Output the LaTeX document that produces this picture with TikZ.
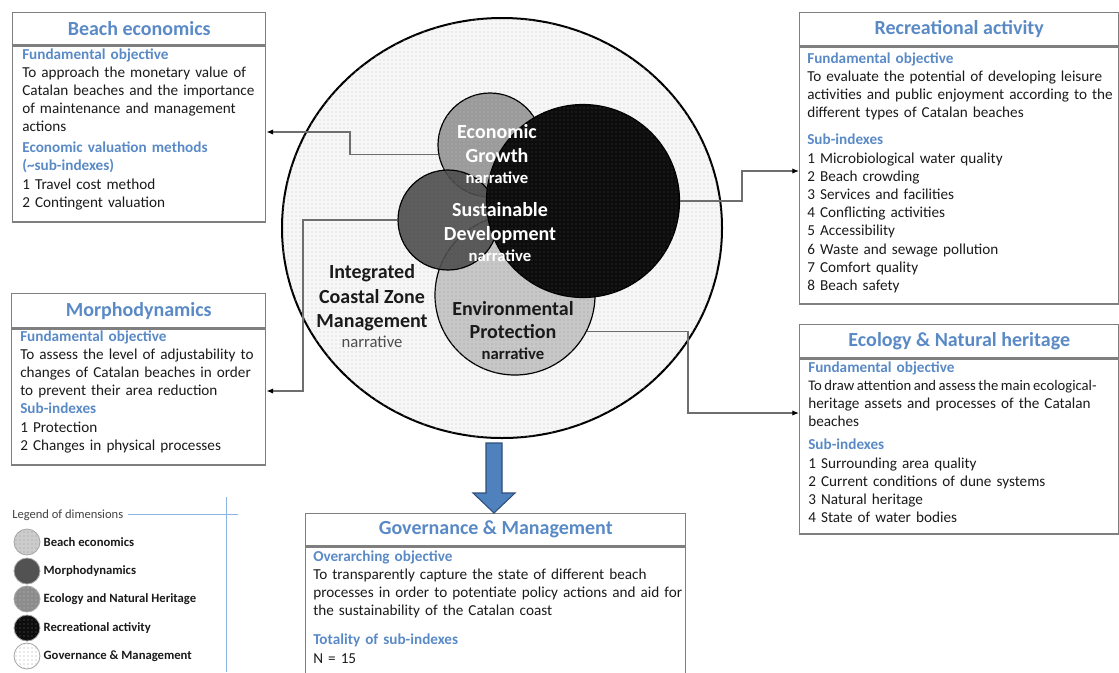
\documentclass[tikz,border=0pt]{standalone}
\usepackage{fontspec}
\setmainfont{Carlito}
\usetikzlibrary{patterns,shapes.geometric,arrows.meta,calc}
\definecolor{ttl}{HTML}{5A8AC6}
\definecolor{frame}{HTML}{7F7F7F}
\definecolor{ink}{HTML}{1A1A1A}
\definecolor{linkgray}{HTML}{6E6E6E}
\definecolor{arrowblue}{HTML}{4F81BD}
\definecolor{arrowedge}{HTML}{2F4F7A}
\definecolor{legline}{HTML}{8EB4E3}
\newcommand\hd[1]{{\color{ttl}\bfseries #1}}
\begin{document}
\begin{tikzpicture}[x=0.75pt, y=-0.75pt,
  hdr/.style={draw=frame, line width=1.1pt, inner sep=0, anchor=north west,
    font=\fontsize{15}{18}\selectfont\bfseries, text=ttl},
  panel/.style={draw=frame, line width=1.1pt, inner sep=0, anchor=north west},
  btext/.style={anchor=base west, inner sep=0, align=left, text width=320pt,
    font=\fontsize{11.4}{13.65}\selectfont, text=ink},
  disc/.style={circle, inner sep=0, draw=black, line width=0.9pt},
  dotty/.style={postaction={pattern=dots, pattern color=#1}},
  conn/.style={draw=linkgray, line width=0.9pt, -{Latex[length=5pt,width=4pt,color=black]}},
  clab/.style={anchor=base, inner sep=0, font=\fontsize{15}{18}\selectfont\bfseries},
  narr/.style={anchor=base, inner sep=0, font=\fontsize{12.5}{15}\selectfont\bfseries},
  lgc/.style={circle, inner sep=0, minimum size=19.5pt, draw=gray!70, line width=0.6pt},
  lgl/.style={anchor=west, inner sep=0, xshift=2.25pt, font=\fontsize{9.5}{11}\selectfont\bfseries, text=ink},
  lgline/.style={draw=legline, line width=0.7pt}
]
\useasboundingbox (0,0) rectangle (1119,672);
\clip (0,0) rectangle (1119,672);

% ---------- central diagram ----------
\node[ellipse, inner sep=0, minimum width=330pt, minimum height=315pt, draw=black,
      line width=1.5pt, fill=black!3, dotty=black!25] (ic) at (502,228) {};
\node[disc, minimum size=120pt, fill=black!22, dotty=black!38] (env) at (515,295) {};
\node[disc, minimum size=78pt, fill=black!42, fill opacity=0.92, dotty=black!25] (eg) at (490,145) {};
\node[disc, minimum size=75pt, fill=black!70, fill opacity=0.9, dotty=black!55] (sd) at (448,220) {};
\node[disc, minimum size=144.75pt, fill=black!95, dotty=black!75] (rb) at (583,201) {};

% ---------- panels ----------
\node[hdr, minimum width=189.75pt, minimum height=24pt] (beT) at (12,12) {Beach economics};
\node[panel, minimum width=189.75pt, minimum height=132pt] (be) at (beT.south west) {};
\node[btext] (beX) at (22,59) {\hd{Fundamental objective}\\
To approach the monetary value of\\
Catalan beaches and the importance\\
of maintenance and management\\
actions\\[2pt]
\hd{Economic valuation methods}\\
\hd{(\textasciitilde sub-indexes)}\\
1 Travel cost method\\
2 Contingent valuation};

\node[hdr, minimum width=190.5pt, minimum height=25.5pt] (moT) at (11,293) {Morphodynamics};
\node[panel, minimum width=190.5pt, minimum height=102pt] (mo) at (moT.south west) {};
\node[btext] (moX) at (20,341) {\hd{Fundamental objective}\\
To assess the level of adjustability to\\
changes of Catalan beaches in order\\
to prevent their area reduction\\
\hd{Sub-indexes}\\
1 Protection\\
2 Changes in physical processes};

\node[hdr, minimum width=239.25pt, minimum height=24.75pt] (raT) at (799,12) {Recreational activity};
\node[panel, minimum width=239.25pt, minimum height=192.75pt] (ra) at (raT.south west) {};
\node[btext] (raX) at (807,63) {\hd{Fundamental objective}\\
To evaluate the potential of developing leisure\\
activities and public enjoyment according to the\\
different types of Catalan beaches\\[6.75pt]
\hd{Sub-indexes}\\
1 Microbiological water quality\\
2 Beach crowding\\
3 Services and facilities\\
4 Conflicting activities\\
5 Accessibility\\
6 Waste and sewage pollution\\
7 Comfort quality\\
8 Beach safety};

\node[hdr, minimum width=239.25pt, minimum height=24.75pt] (ecT) at (799,324) {Ecology \& Natural heritage};
\node[panel, minimum width=239.25pt, minimum height=131.25pt] (ec) at (ecT.south west) {};
\node[btext] (ecX) at (808,372) {\hd{Fundamental objective}\\
{\fontsize{11}{13.65}\selectfont\spaceskip=0.17em\relax To draw attention and assess the main ecological-}\\
heritage assets and processes of the Catalan\\
beaches\\[3.75pt]
\hd{Sub-indexes}\\
1 Surrounding area quality\\
2 Current conditions of dune systems\\
3 Natural heritage\\
4 State of water bodies};

\node[hdr, minimum width=285pt, minimum height=24pt] (gmT) at (305,513) {Governance \& Management};
\node[panel, minimum width=285pt, minimum height=108.75pt] (gm) at (gmT.south west) {};
\node[btext] (gmX) at (313,561) {\hd{Overarching objective}\\
To transparently capture the state of different beach\\
processes in order to potentiate policy actions and aid for\\
the sustainability of the Catalan coast\\[8.25pt]
\hd{Totality of sub-indexes}\\
N = 15};

% ---------- connectors ----------
\coordinate (k1) at (350,132);
\coordinate (k2) at (303,391);
\coordinate (k3) at (742,171);
\coordinate (k4) at (688,413);
\draw[conn] (eg.190) -| (k1) -- (be.east |- k1);
\draw[conn] (sd.west) -| (k2) -- (mo.east |- k2);
\draw[conn] (rb.east) -| (k3) -- (ra.west |- k3);
\draw[conn] (env.-27.5) -| (k4) -- (ec.west |- k4);

% ---------- block arrow down to governance ----------
\coordinate (tip) at (gmT.north -| 494,0);
\filldraw[fill=arrowblue, draw=arrowedge, line width=0.8pt, line join=miter]
  (tip) -- ++(-21,-20) -- ++(13,0) -- ++(0,-50) -- ++(16,0) -- ++(0,50) -- ++(13,0) -- cycle;

% ---------- circle labels ----------
\node[clab, text=white] (eg1) at (497,138) {Economic};
\node[clab, text=white] (eg2) at (497,162) {Growth};
\node[narr, text=white] (eg3) at (497,183) {narrative};
\node[clab, text=white] (sd1) at (500,216) {Sustainable};
\node[clab, text=white] (sd2) at (500,240) {Development};
\node[narr, text=white] (sd3) at (500,261) {narrative};
\node[clab, text=ink] (ic1) at (372,278) {Integrated};
\node[clab, text=ink] (ic2) at (372,303) {Coastal Zone};
\node[clab, text=ink] (ic3) at (372,327) {Management};
\node[anchor=base, inner sep=0, font=\fontsize{12.5}{15}\selectfont, text=black!70] (ic4) at (372,347) {narrative};
\node[clab, text=ink] (en1) at (513,315) {Environmental};
\node[clab, text=ink] (en2) at (513,338) {Protection};
\node[narr, text=ink] (en3) at (513,359) {narrative};

% ---------- legend ----------
\node[anchor=base west, inner sep=0, font=\fontsize{9.4}{11}\selectfont, text=black!75] (lgt) at (12,518) {Legend of dimensions};
\coordinate (lgA) at (238,515);
\coordinate (lgB) at (226,497);
\coordinate (lgC) at (226,672);
\draw[lgline] ([xshift=3pt]lgt.east) -- (lgt.east -| lgA);
\draw[lgline] (lgB) -- (lgC);
\node[lgc, fill=black!20, dotty=black!40] (l1) at (27,542) {};
\node[lgc, fill=black!68] (l2) at (27,571) {};
\node[lgc, fill=black!45, dotty=black!25] (l3) at (27,599) {};
\node[lgc, fill=black!95, dotty=black!60] (l4) at (27,628) {};
\node[lgc, fill=white, dotty=black!35] (l5) at (27,656) {};
\node[lgl] (t1) at (l1.east) {Beach economics};
\node[lgl] (t2) at (l2.east) {Morphodynamics};
\node[lgl] (t3) at (l3.east) {Ecology and Natural Heritage};
\node[lgl] (t4) at (l4.east) {Recreational activity};
\node[lgl] (t5) at (l5.east) {Governance \& Management};
\end{tikzpicture}
\end{document}
